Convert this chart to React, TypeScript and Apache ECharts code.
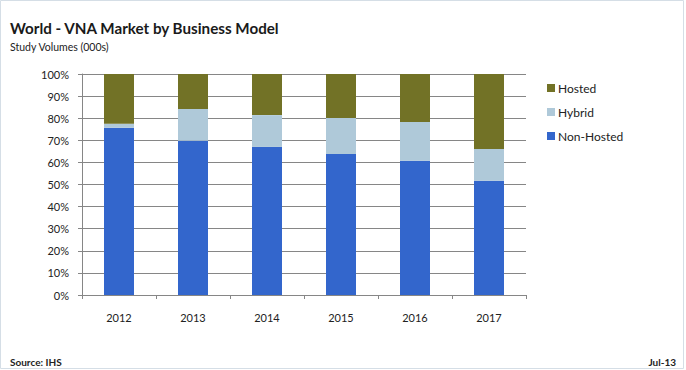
import React, { useEffect, useRef } from "react";
import * as echarts from "echarts";

const years = ["2012", "2013", "2014", "2015", "2016", "2017"];
const nonHosted = [75.7, 69.8, 67.0, 63.8, 60.8, 51.7];
const hybrid = [1.8, 14.4, 14.4, 16.3, 17.5, 14.4];
const hosted = [22.5, 15.8, 18.6, 19.9, 21.7, 33.9];

const FONT = "Lato, 'Open Sans', sans-serif";

export default function App() {
  const ref = useRef<HTMLDivElement>(null);
  useEffect(() => {
    if (!ref.current) return;
    const chart = echarts.init(ref.current, null, { renderer: "svg" });
    const barW = 30;
    chart.setOption({
      animation: false,
      backgroundColor: "#ffffff",
      textStyle: { fontFamily: FONT },
      title: [
        {
          text: "World - VNA Market by Business Model",
          left: 5,
          top: 15,
          textStyle: { fontSize: 15.2, fontWeight: "bold", color: "#1a1a1a", fontFamily: FONT },
        },
        {
          text: "Study Volumes (000s)",
          left: 5,
          top: 36,
          textStyle: { fontSize: 10.5, fontWeight: "normal", color: "#222", fontFamily: FONT },
        },
        {
          text: "Source: IHS",
          left: 5,
          top: 352,
          textStyle: { fontSize: 10, fontWeight: "bold", color: "#222", fontFamily: FONT },
        },
        {
          text: "Jul-13",
          right: 5,
          top: 352,
          textStyle: { fontSize: 10, fontWeight: "bold", color: "#222", fontFamily: FONT },
        },
      ],
      legend: {
        orient: "vertical",
        left: 542,
        top: 77,
        itemWidth: 8,
        itemHeight: 8,
        itemGap: 12,
        icon: "rect",
        data: ["Hosted", "Hybrid", "Non-Hosted"],
        textStyle: { fontSize: 12, color: "#222", fontFamily: FONT, padding: [0, 0, 0, -2] },
      },
      grid: { left: 82, right: 160, top: 74, bottom: 75, containLabel: false },
      xAxis: {
        type: "category",
        data: years,
        axisLine: { show: true, lineStyle: { color: "#868686", width: 1 } },
        axisTick: { show: true, length: 4, lineStyle: { color: "#868686" } },
        axisLabel: { fontSize: 11, color: "#222", margin: 17, fontFamily: FONT },
      },
      yAxis: {
        type: "value",
        min: 0,
        max: 100,
        interval: 10,
        axisLine: { show: true, lineStyle: { color: "#868686", width: 1 } },
        axisTick: { show: true, length: 4, lineStyle: { color: "#868686" } },
        axisLabel: { fontSize: 11, color: "#222", margin: 13, formatter: "{value}%", fontFamily: FONT },
        splitLine: { show: true, lineStyle: { color: "#868686", width: 1 } },
      },
      series: [
        {
          name: "Non-Hosted",
          type: "bar",
          stack: "s",
          barWidth: barW,
          data: nonHosted,
          itemStyle: { color: "#3366CC" },
        },
        {
          name: "Hybrid",
          type: "bar",
          stack: "s",
          barWidth: barW,
          data: hybrid,
          itemStyle: { color: "#AFC9D9" },
        },
        {
          name: "Hosted",
          type: "bar",
          stack: "s",
          barWidth: barW,
          data: hosted,
          itemStyle: { color: "#727226" },
        },
      ],
      graphic: [
        {
          type: "rect",
          shape: { x: 0.5, y: 0.5, width: 683, height: 368 },
          style: { fill: "none", stroke: "#D5DEE6", lineWidth: 1 },
          silent: true,
        },
      ],
    });
    return () => chart.dispose();
  }, []);
  return (
    <div
      ref={ref}
      style={{ position: "fixed", left: 0, top: 0, width: 686, height: 370 }}
    />
  );
}
